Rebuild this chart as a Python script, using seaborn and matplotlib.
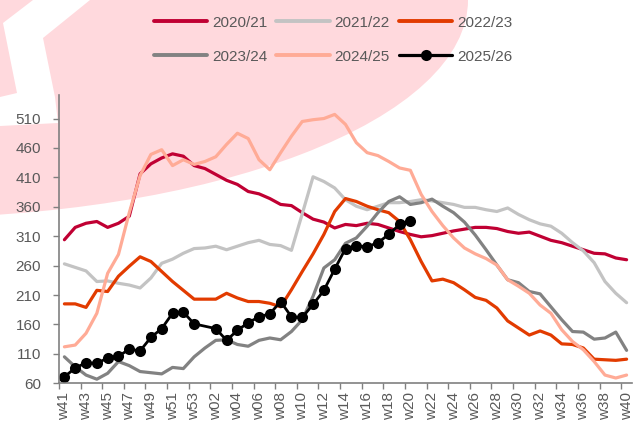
import matplotlib
matplotlib.use("Agg")
import matplotlib.pyplot as plt
from matplotlib.patches import Ellipse, Polygon
from matplotlib.lines import Line2D
import pandas as pd
import seaborn as sns

# week labels: w41..w53 then w01..w40
weeks = ["w%d" % w for w in range(41, 54)] + ["w%02d" % w for w in range(1, 41)]

seasons = ["2020/21", "2021/22", "2022/23", "2023/24", "2024/25", "2025/26"]
colors = ["#C00033", "#C3C3C3", "#E23B00", "#828282", "#FFAB96", "#000000"]

s2020 = [304, 325, 332, 335, 325, 332, 344, 416, 433, 443, 450, 446, 430, 425, 415, 405, 398, 386, 382, 374,
         364, 362, 350, 339, 334, 324, 330, 328, 332, 330, 324, 318, 313, 309, 311, 315, 319, 322, 325, 325,
         323, 318, 315, 317, 310, 303, 299, 293, 287, 281, 280, 273, 270]
s2021 = [263, 257, 251, 233, 234, 230, 227, 222, 239, 264, 271, 281, 289, 290, 293, 287, 293, 299, 303, 296,
         294, 286, 348, 411, 403, 392, 372, 361, 355, 361, 367, 367, 369, 372, 370, 367, 364, 359, 359, 355,
         352, 358, 347, 338, 331, 327, 315, 299, 285, 265, 233, 213, 197]
s2022 = [195, 195, 189, 218, 216, 242, 259, 275, 267, 250, 233, 218, 203, 203, 203, 213, 205, 199, 199, 196,
         190, 219, 250, 280, 313, 352, 374, 369, 361, 355, 350, 335, 304, 267, 234, 237, 231, 219, 206, 201,
         188, 166, 154, 142, 149, 142, 127, 126, 120, 101, 100, 99, 101]
s2023 = [105, 88, 74, 67, 77, 97, 90, 80, 78, 76, 87, 85, 105, 120, 133, 134, 126, 123, 133, 137,
         134, 148, 168, 208, 256, 270, 298, 307, 327, 350, 369, 377, 364, 367, 373, 361, 350, 334, 312, 287,
         261, 236, 231, 216, 212, 190, 168, 148, 147, 135, 137, 147, 116]
s2024 = [122, 125, 145, 179, 247, 279, 350, 413, 449, 457, 430, 440, 432, 437, 445, 466, 485, 476, 440, 423,
         452, 480, 505, 508, 510, 517, 500, 469, 452, 447, 437, 426, 422, 381, 352, 328, 307, 290, 280, 272,
         261, 236, 225, 213, 193, 179, 151, 131, 117, 97, 74, 69, 74]
# 2025/26 has no w01 point
s2025 = [71, 86, 95, 94, 103, 106, 118, 115, 138, 153, 179, 181, 161, None, 153, 133, 150, 163, 173, 178,
         199, 173, 172, 194, 218, 254, 289, 294, 292, 299, 313, 330, 336]

series = [s2020, s2021, s2022, s2023, s2024, s2025]

sns.set_style("white")
plt.rcParams['font.family'] = ['Liberation Sans', 'DejaVu Sans']
txt = "#595959"

W, H = 642, 425
fig = plt.figure(figsize=(W / 100, H / 100), dpi=100)

# pale logo watermark behind the chart
fig.patches.append(Ellipse((-100 / W, 1.0), 1136 / W, 436 / H, transform=fig.transFigure,
                           facecolor="#FFD9DD", edgecolor="none", zorder=-10))
band = [(33, 0), (90, 0), (43, 38), (55, 97), (58, 123), (0, 126), (0, 97), (17, 93), (3, 23)]
fig.patches.append(Polygon([(x / W, 1 - y / H) for x, y in band], closed=True, transform=fig.transFigure,
                           facecolor="white", edgecolor="none", zorder=-9))

ax = fig.add_axes([59 / W, 1 - 383.3 / H, (632 - 59) / W, (383.3 - 95) / H])
ax.patch.set_alpha(0)

for name, vals, col in zip(seasons, series, colors):
    df = pd.DataFrame({"x": range(len(vals)), "y": vals}).dropna()
    if name == "2025/26":
        sns.lineplot(data=df, x="x", y="y", color=col, linewidth=2.0, marker="o",
                     markersize=8, markeredgewidth=0, ax=ax)
    else:
        sns.lineplot(data=df, x="x", y="y", color=col, linewidth=2.3, ax=ax)

ax.set_xlim(-0.5, 52.5)
ax.set_ylim(60, 550)
ax.set_xlabel("")
ax.set_ylabel("")

ax.set_xticks(range(0, len(weeks), 2))
ax.set_xticklabels(weeks[::2], rotation=90)
ax.set_xticks([i - 0.5 for i in range(0, len(weeks), 2)], minor=True)
ax.set_yticks(range(60, 511, 50))

ax.tick_params(axis="x", which="major", length=0, pad=6, labelsize=11, labelcolor=txt)
ax.tick_params(axis="x", which="minor", length=4, width=1, color="#808080", direction="out")
ax.tick_params(axis="y", length=4, width=1, color="#808080", direction="out", pad=9,
               labelsize=11, labelcolor=txt)
ax.tick_params(left=True, bottom=True)
ax.tick_params(axis="x", which="minor", bottom=True)

for s in ["top", "right"]:
    ax.spines[s].set_visible(False)
for s in ["left", "bottom"]:
    ax.spines[s].set_color("#808080")
    ax.spines[s].set_linewidth(1.2)

# legend: 2 rows x 3 columns, row-major order
handles = []
for name, col in zip(seasons, colors):
    if name == "2025/26":
        handles.append(Line2D([], [], color=col, linewidth=2.3, marker="o", markersize=8, markeredgewidth=0))
    else:
        handles.append(Line2D([], [], color=col, linewidth=2.8))
order = [0, 3, 1, 4, 2, 5]
fig.legend([handles[i] for i in order], [seasons[i] for i in order], ncol=3, loc="upper center",
           bbox_to_anchor=(333 / W, 1 - 2 / H), frameon=False, fontsize=11, labelcolor=txt,
           handlelength=3.5, handletextpad=0.3, columnspacing=0.6, labelspacing=1.3)

fig.savefig("out.png", dpi=100)
